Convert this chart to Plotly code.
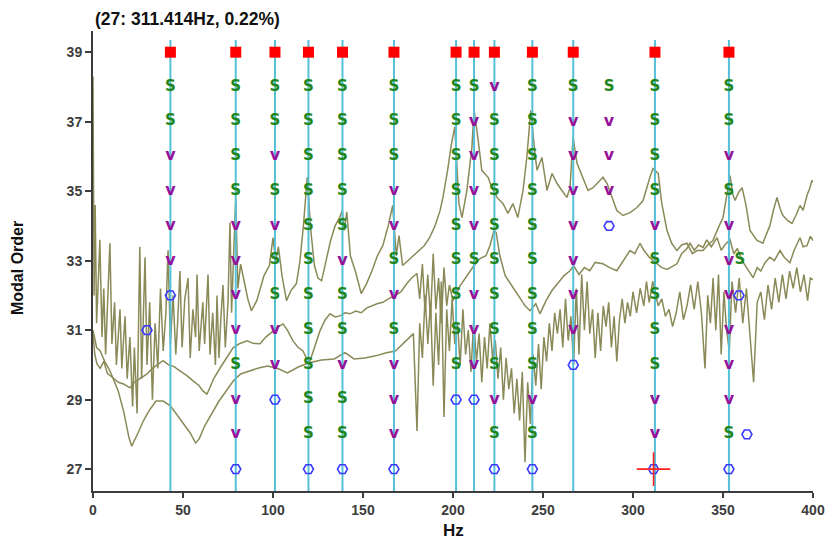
import plotly.graph_objects as go

# ---------------------------------------------------------------------------
# Stabilisation diagram: pole status per model order + overlaid spectra
# ---------------------------------------------------------------------------

# model orders shown in each status column (top to bottom)
orders = [38, 37, 36, 35, 34, 33, 32, 31, 30, 29, 28, 27]
selected_order = 39          # row where the chosen modes are marked

# frequencies (Hz) of the selected physical modes
selected_hz = [43.0, 79.3, 101.1, 119.7, 138.6, 167.2, 201.7, 211.7,
               223.0, 244.1, 266.8, 312.2, 353.3]

# pole status for orders 38..27 at each selected frequency
# S = stable, v = stable frequency + vector, o = stable frequency, . = none
selected_status = [
    "SSvvvvo.....",
    "SSSSvvvvSvvo",
    "SSvSvSSvvo..",
    "SSSSSSSSSSSo",
    "SSSSSvSSvSSo",
    "SSSvvSvSvvvo",
    "SSSSSSSSSo..",
    "SvvvvSvvvo..",
    "vSSSSSSSSvSo",
    "SSSSSSSSSvSo",
    "Svvvvvvvo...",
    "SSSSvSSSSvv.",
    "SSvSvvvvvvSo",
]

# isolated poles that do not belong to a selected mode
other_hz = [286.7, 286.7, 286.7, 286.7, 286.7, 30.0, 359.4, 358.9, 363.3, 311.414]
other_order = [38, 37, 36, 35, 34, 31, 33, 32, 28, 27]
other_kind = ["S", "v", "v", "v", "o", "o", "S", "o", "o", "o"]

# cursor (currently picked pole)
cursor_hz = 311.414
cursor_order = 27
cursor_damping = 0.22

# --- spectrum 1 (upper trace) ----------------------------------------------
spec1_hz = [0, 0.6, 1.2, 2, 3, 3.8, 5, 6, 7, 8, 9.4, 10.5, 12, 13, 15, 16, 17.8,
            19, 20.5, 22, 23, 24.5, 26, 27, 28.9, 30, 31.5, 33, 34.5, 36, 37.5,
            39, 40.5, 41.7, 43, 44.5, 46, 47, 48.3, 49.5, 51, 52.8, 54, 55.5,
            57, 57.8, 59, 61, 62, 63.9, 65, 66.5, 68, 68.9, 70, 71, 72.2, 73.5,
            75, 76.1, 77, 78, 79.3, 80.5, 82, 84, 86, 88, 91, 95, 98, 100,
            101.5, 103, 105, 107.5, 110, 113, 115, 117, 119, 121, 123, 125,
            127, 129.5, 132, 134.5, 137, 138.5, 139.5, 141, 143, 146, 149, 152,
            155, 158, 161, 164, 166.5, 168.5, 170, 172, 175, 178, 181, 184,
            187, 190, 192.8, 194.4, 197, 199, 201, 203.3, 205, 207.7, 210.5,
            211.7, 214, 216, 219.5, 221.6, 224.4, 227.8, 230.5, 233.3, 236,
            238.9, 241, 243.2, 245.5, 246.7, 249.4, 252.2, 255, 257.8, 260.5,
            263.3, 265, 266.7, 268.9, 272.2, 275, 277.8, 281.7, 283.3, 285.6,
            288.3, 291, 294.4, 298.3, 302.2, 305.6, 309.4, 311.1, 314, 316,
            318.9, 321.5, 324.4, 327, 330, 333, 335.6, 338.9, 341.5, 344.4, 347,
            350, 352.8, 353.9, 355.5, 356.7, 358.5, 360.6, 362.8, 365, 368.9,
            372.2, 374, 376, 378, 380, 381.7, 383.3, 386, 388.3, 390.5, 392.8,
            394.5, 396.7, 398.3, 399.4, 400]
spec1_val = [38.3, 32.0, 34.6, 31.2, 32.5, 33.6, 30.8, 32.2, 30.3, 31.5, 33.5,
             30.6, 31.8, 30.0, 31.6, 29.9, 31.4, 29.6, 30.8, 28.8, 30.5, 28.6,
             33.4, 29.6, 33.1, 30.0, 31.8, 29.0, 31.2, 29.9, 32.2, 30.4, 31.5,
             33.3, 30.6, 32.0, 30.3, 31.2, 32.7, 30.5, 31.9, 32.5, 30.2, 31.6,
             30.8, 32.6, 30.4, 31.8, 30.6, 32.6, 30.3, 31.5, 30.0, 32.0, 30.2,
             31.3, 32.3, 30.5, 31.8, 34.1, 31.5, 33.0, 34.8, 32.2, 32.9, 32.4,
             31.9, 31.56, 31.85, 32.57, 32.86, 33.66, 33.0, 33.4, 32.57, 31.85,
             32.14, 32.34, 33.0, 34.07, 35.4, 33.87, 32.86, 32.5, 32.42, 33.0,
             33.58, 34.0, 34.24, 34.44, 33.87, 34.4, 33.14, 32.65, 32.05, 32.34,
             32.71, 33.14, 33.43, 34.0, 34.59, 33.14, 33.72, 32.86, 33.0, 33.14,
             33.29, 33.43, 33.66, 34.0, 34.44, 34.82, 35.6, 36.32, 36.85, 34.64,
             34.24, 35.02, 36.26, 37.33, 36.46, 35.6, 35.4, 35.1, 34.82, 34.64,
             34.36, 34.64, 34.24, 35.02, 35.97, 37.33, 36.09, 35.6, 35.97, 35.02,
             35.51, 35.22, 35.02, 34.82, 35.1, 36.55, 35.8, 35.4, 35.02, 35.1,
             35.31, 35.4, 35.22, 34.82, 34.44, 34.3, 34.38, 34.53, 34.73, 35.4,
             35.65, 35.51, 34.64, 33.87, 33.5, 33.29, 33.45, 33.5, 33.2, 33.29,
             33.29, 33.45, 33.58, 33.9, 34.24, 35.1, 35.45, 34.9, 34.73, 34.95,
             35.1, 34.59, 33.87, 33.58, 33.5, 33.75, 34.0, 34.45, 34.82, 34.5,
             34.3, 34.15, 34.07, 34.3, 34.59, 34.45, 34.88, 35.1, 35.31, 35.25]

# --- spectrum 2 (middle trace) ---------------------------------------------
spec2_hz = [0, 1, 2.2, 4, 6, 8, 11.1, 14, 17, 20.6, 23, 26, 30, 33, 36, 38.9,
            42, 45, 48.3, 52, 55.6, 59, 61, 63.3, 65, 67, 70.6, 74, 77.8, 81,
            85.6, 89, 92.8, 96, 100, 103, 105.6, 108, 111.1, 114, 116.7, 118.5,
            120.6, 123, 126.1, 129, 131.7, 134.5, 137.2, 140, 142.8, 146, 149,
            152.2, 155, 157.8, 161, 165, 168, 171, 174.4, 177, 180, 181.5, 183,
            184.5, 186, 187.5, 189, 190.5, 192, 193.5, 195, 196.5, 198, 200,
            204, 208, 211.7, 215, 218.3, 220.5, 222.8, 224, 226, 229, 231.7,
            234.4, 237.2, 240, 242.8, 246, 248.3, 251.7, 255, 258.3, 261.7,
            265, 267, 270, 273, 276, 279, 283.3, 287, 291, 294.5, 298.3, 301,
            303.9, 306, 309, 313.3, 316, 319, 322, 324.4, 327, 330, 331.7, 334,
            336.5, 338.9, 341, 343.5, 346.7, 349, 351, 353.9, 356, 358, 360.6,
            363, 366.7, 369, 371, 373.3, 376, 378.5, 381.7, 384, 387.2, 389.5,
            392.8, 394.5, 396.7, 398.5, 400]
spec2_val = [30.9, 30.3, 30.03, 29.9, 30.1, 29.75, 29.63, 29.5, 29.45, 29.34,
             29.5, 29.6, 29.74, 29.9, 30.0, 30.12, 30.0, 29.95, 29.83, 29.7,
             29.54, 29.4, 29.25, 29.16, 29.35, 29.6, 29.91, 30.2, 30.49, 30.6,
             30.69, 30.62, 30.61, 30.8, 30.98, 31.1, 31.18, 31.0, 30.69, 30.5,
             30.4, 30.2, 30.12, 30.5, 30.98, 31.3, 31.47, 31.38, 31.41, 31.5,
             31.47, 31.55, 31.5, 31.64, 31.7, 31.76, 31.8, 31.93, 32.0, 32.1,
             32.34, 32.5, 32.63, 31.9, 32.9, 31.5, 32.6, 31.3, 33.2, 31.6, 32.5,
             31.2, 32.8, 31.7, 32.3, 31.85, 32.28, 32.57, 32.86, 33.06, 33.14,
             33.43, 33.87, 33.81, 33.14, 32.57, 32.34, 32.14, 31.93, 31.7, 31.56,
             31.76, 31.47, 31.85, 32.14, 32.34, 32.57, 32.71, 32.86, 32.6, 32.8,
             32.71, 32.95, 32.91, 32.8, 32.71, 33.0, 33.29, 33.2, 33.5, 33.3,
             33.1, 32.91, 32.8, 32.75, 32.85, 32.91, 33.2, 33.35, 33.5, 33.3,
             33.45, 33.38, 33.6, 33.4, 33.66, 33.3, 33.45, 33.6, 33.2, 33.35,
             33.0, 32.8, 32.51, 32.8, 32.7, 32.94, 33.1, 33.0, 33.29, 33.1,
             32.94, 33.3, 33.66, 33.4, 33.43, 33.7, 33.58]

# --- spectrum 3 (lower trace) ----------------------------------------------
spec3_hz = [0, 1, 2, 4, 6.5, 9.4, 12, 14, 17, 20, 21.5, 23, 25, 28, 31, 35, 39,
            43, 47, 51, 54, 57, 59, 62, 66, 70, 74, 78, 82, 87, 92, 97, 103,
            108, 114, 120, 127, 134, 140, 145, 151, 157, 163, 168, 172, 175,
            178, 180, 181.5, 183, 184.5, 186, 187.5, 189, 190.5, 192, 193.5,
            195, 196.5, 198, 199.5, 201, 202.5, 204, 205.5, 207, 208.5, 210,
            211.5, 213, 214.5, 216, 217.5, 219, 220.5, 222, 223.5, 225, 226.5,
            228, 229.5, 231, 232.5, 234, 235.5, 237, 238.5, 240, 241.5, 243,
            244.5, 246, 247.5, 249, 250.5, 252, 253.5, 255, 256.5, 258, 259.5,
            261, 262.5, 264, 265.5, 267, 268.5, 270, 271.5, 273, 274.5, 276,
            277.5, 279, 280.5, 282, 283.5, 285, 286.5, 288, 289.5, 291, 292.5,
            294, 295.5, 297, 298.5, 300, 302, 304, 306, 307.5, 309, 311, 312.5,
            314, 316, 318, 320, 322, 324, 326, 328, 330, 332, 334, 336, 338,
            340, 341.5, 343, 344.5, 346, 347.5, 349, 350.5, 352, 353.5, 355,
            357, 359, 361, 363, 365, 367, 369, 371, 373, 375, 377, 379, 381,
            383, 385, 387, 389, 391, 393, 395, 397, 398.5, 400]
spec3_val = [31.0, 30.7, 30.5, 30.4, 30.1, 29.83, 29.5, 29.25, 28.67, 27.9,
             27.66, 27.81, 28.04, 28.39, 28.67, 28.96, 28.96, 28.82, 28.53,
             28.24, 28.04, 27.75, 27.87, 28.24, 28.62, 28.96, 29.25, 29.54,
             29.74, 29.83, 29.91, 29.97, 29.89, 29.77, 29.94, 30.06, 30.14,
             30.17, 30.35, 30.17, 30.2, 30.26, 30.35, 30.4, 30.61, 30.75, 30.9,
             28.1, 31.2, 30.2, 32.0, 30.6, 31.8, 29.4, 31.5, 30.0, 32.4, 28.5,
             31.6, 30.4, 31.9, 30.6, 31.2, 30.0, 31.6, 30.3, 31.0, 29.8, 31.3,
             30.1, 30.9, 29.5, 30.8, 29.9, 31.2, 30.2, 30.7, 29.6, 30.5, 29.0,
             30.2, 29.3, 29.9, 28.6, 29.6, 28.4, 29.8, 27.2, 29.5, 28.3, 30.3,
             29.4, 30.6, 29.3, 30.8, 30.1, 31.2, 30.4, 31.5, 30.9, 31.6, 30.5,
             31.9, 30.7, 31.4, 30.0, 32.2, 30.3, 32.6, 31.0, 32.4, 30.9, 31.6,
             30.2, 31.5, 30.4, 31.7, 31.1, 31.8, 30.5, 31.4, 30.1, 31.3, 31.9,
             31.2, 31.8, 31.4, 32.1, 31.5, 32.2, 31.7, 32.4, 31.8, 32.4, 32.0,
             31.7, 31.9, 31.4, 31.6, 31.1, 31.5, 32.1, 31.3, 31.7, 32.3, 31.6,
             32.4, 31.5, 29.9, 32.0, 31.2, 32.5, 31.0, 32.6, 30.3, 32.1, 31.0,
             30.4, 32.4, 31.5, 32.5, 31.2, 32.2, 30.8, 29.5, 31.8, 32.1, 31.3,
             32.3, 31.6, 32.5, 31.8, 32.6, 31.9, 32.7, 32.2, 32.8, 32.1, 32.6,
             31.85, 32.5, 32.45]

# ---------------------------------------------------------------------------
FONT = "Liberation Sans, Arial, sans-serif"
GLYPH_FONT = "DejaVu Sans, sans-serif"
OLIVE = "#8a8a58"
CYAN = "#55c1d9"
GREEN = "#1f861c"
PURPLE = "#96119a"
BLUE = "#3a3aff"
AXIS = "#3c3c3c"

y_min, y_max = 26.37, 39.61
line_top = 39.35

# collect poles by status
poles = {"S": ([], []), "v": ([], []), "o": ([], [])}
for hz, code in zip(selected_hz, selected_status):
    for order, c in zip(orders, code):
        if c in poles:
            poles[c][0].append(hz)
            poles[c][1].append(order)
for hz, order, c in zip(other_hz, other_order, other_kind):
    poles[c][0].append(hz)
    poles[c][1].append(order)

fig = go.Figure()

for xs, ys in [(spec1_hz, spec1_val), (spec2_hz, spec2_val), (spec3_hz, spec3_val)]:
    fig.add_trace(go.Scatter(x=xs, y=ys, mode="lines",
                             line=dict(color=OLIVE, width=1.5),
                             hoverinfo="skip"))

# vertical guides through the selected modes
gx, gy = [], []
for hz in selected_hz:
    gx += [hz, hz, None]
    gy += [y_min, line_top, None]
fig.add_trace(go.Scatter(x=gx, y=gy, mode="lines",
                         line=dict(color=CYAN, width=2), hoverinfo="skip"))

# selected modes
fig.add_trace(go.Scatter(x=selected_hz, y=[selected_order] * len(selected_hz),
                         mode="markers",
                         marker=dict(symbol="square", size=11, color="#ff0000"),
                         hoverinfo="skip"))

fig.add_trace(go.Scatter(x=poles["S"][0], y=poles["S"][1], mode="text",
                         text=["S"] * len(poles["S"][0]),
                         textposition="middle center",
                         textfont=dict(family=GLYPH_FONT, size=15, color=GREEN,
                                       weight="bold"),
                         hoverinfo="skip"))
fig.add_trace(go.Scatter(x=poles["v"][0], y=poles["v"][1], mode="text",
                         text=["v"] * len(poles["v"][0]),
                         textposition="middle center",
                         textfont=dict(family=GLYPH_FONT, size=16, color=PURPLE,
                                       weight="bold"),
                         hoverinfo="skip"))
fig.add_trace(go.Scatter(x=poles["o"][0], y=poles["o"][1], mode="markers",
                         marker=dict(symbol="hexagon2-open", size=10,
                                     color=BLUE, line=dict(color=BLUE, width=1.6)),
                         hoverinfo="skip"))

# cursor cross-hair
fig.add_trace(go.Scatter(x=[cursor_hz], y=[cursor_order], mode="markers",
                         marker=dict(symbol="cross-thin-open", size=24,
                                     color="#ff2020",
                                     line=dict(color="#ff2020", width=1.6)),
                         hoverinfo="skip"))

tickfont = dict(family=FONT, size=14, color=AXIS, weight="bold")
fig.update_layout(
    width=828, height=539,
    margin=dict(l=93, r=15, t=31, b=48),
    paper_bgcolor="white", plot_bgcolor="white",
    showlegend=False,
    xaxis=dict(range=[0, 400], tickvals=list(range(0, 401, 50)),
               ticks="outside", ticklen=5, tickwidth=2, tickcolor=AXIS,
               showline=True, linecolor=AXIS, linewidth=2, automargin=False,
               showgrid=False, zeroline=False, tickfont=tickfont),
    yaxis=dict(range=[y_min, y_max], tickvals=list(range(27, 40, 2)),
               ticks="outside", ticklen=6, tickwidth=2, tickcolor=AXIS,
               showline=True, linecolor=AXIS, linewidth=2, automargin=False,
               showgrid=False, zeroline=False, tickfont=tickfont,
               layer="below traces"),
    annotations=[
        dict(text=f"({cursor_order}: {cursor_hz:.3f}Hz, {cursor_damping:.2f}%)",
             xref="paper", yref="paper", x=0, y=1, xanchor="left",
             yanchor="bottom", showarrow=False,
             font=dict(family=FONT, size=17.5, color="#111111", weight="bold")),
        dict(text="Hz", xref="paper", yref="paper", x=0.5, y=-0.085,
             xanchor="center", yanchor="middle", showarrow=False,
             font=dict(family=FONT, size=17, color="#111111", weight="bold")),
        dict(text="Modal Order", xref="paper", yref="paper", x=-0.104, y=0.485,
             xanchor="center", yanchor="middle", textangle=-90, showarrow=False,
             font=dict(family=FONT, size=16, color="#111111", weight="bold")),
    ],
)

fig.write_html("out.html")
